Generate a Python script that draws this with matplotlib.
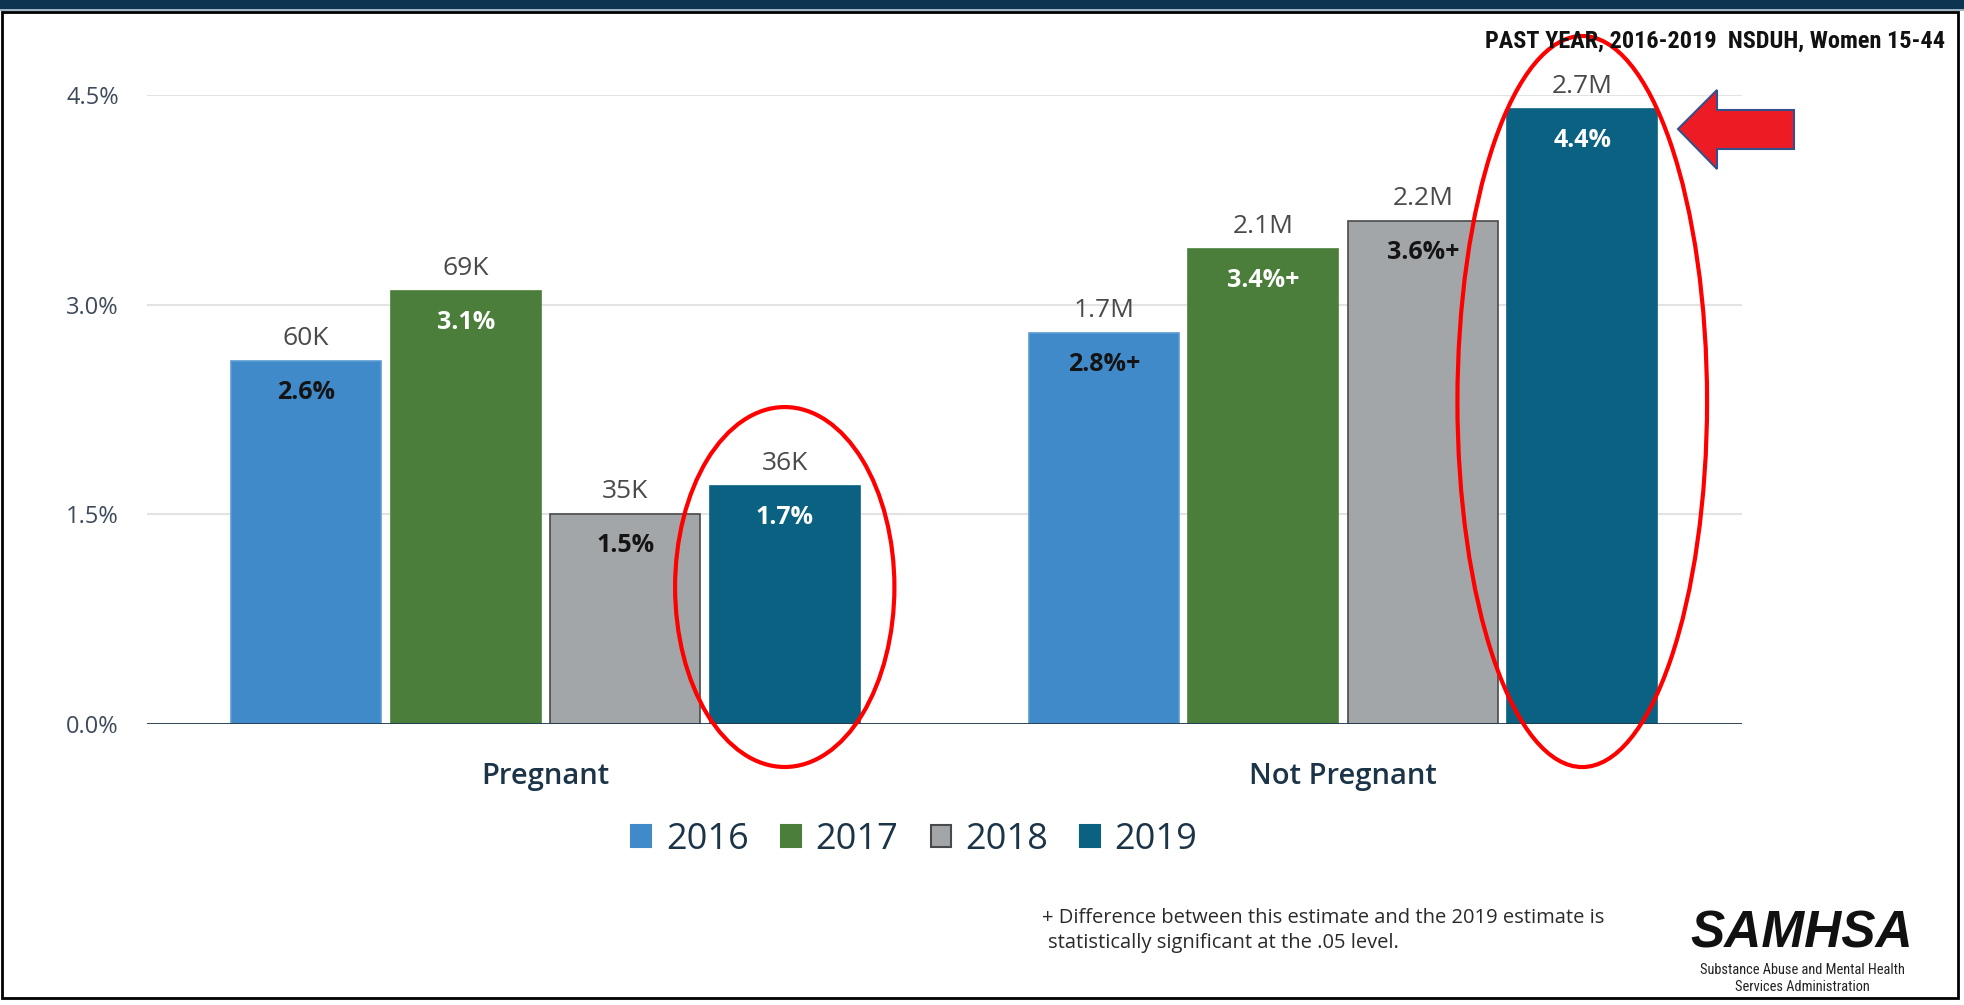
import matplotlib
matplotlib.use('Agg')
import matplotlib.pyplot as plt
from matplotlib import font_manager
from matplotlib.patches import Ellipse, Polygon, Rectangle, Patch
import numpy as np

# ---------------- data ----------------
groups = ['Pregnant', 'Not Pregnant']
years = ['2016', '2017', '2018', '2019']
pct_2016 = [2.6, 2.8]
pct_2017 = [3.1, 3.4]
pct_2018 = [1.5, 3.6]
pct_2019 = [1.7, 4.4]
num_2016 = ['60K', '1.7M']
num_2017 = ['69K', '2.1M']
num_2018 = ['35K', '2.2M']
num_2019 = ['36K', '2.7M']
sig_2016 = [False, True]
sig_2017 = [False, True]
sig_2018 = [False, True]
sig_2019 = [False, False]
yticks = [0.0, 1.5, 3.0, 4.5]

series_pct = [pct_2016, pct_2017, pct_2018, pct_2019]
series_num = [num_2016, num_2017, num_2018, num_2019]
series_sig = [sig_2016, sig_2017, sig_2018, sig_2019]
colors = ['#418AC9', '#4A7E3A', '#A3A6A9', '#0A6182']
edgecolors = ['#5a9bd2', '#4A7E3A', '#4a4a4a', '#0A6182']
inside_colors = ['#141414', '#ffffff', '#141414', '#ffffff']

FONT = 'Open Sans'
available = {f.name for f in font_manager.fontManager.ttflist}
NARROW = [n for n in ['Liberation Sans Narrow', 'Roboto Condensed',
                      'DejaVu Sans Condensed', 'Liberation Sans']
          if n in available] + ['DejaVu Sans']

W, H = 1965, 1005
fig = plt.figure(figsize=(W / 100, H / 100), dpi=100)


def fx(px):
    return px / W


def fy(py):
    return 1 - py / H


ax = fig.add_axes([146.75 / W, 1 - 724 / H, 1595 / W, 629 / H])

x = np.arange(len(groups))
offsets = [-0.3, -0.1, 0.1, 0.3]
width = 0.188

for i, yr in enumerate(years):
    xi = x + offsets[i]
    ax.bar(xi, series_pct[i], width=width, color=colors[i],
           edgecolor=edgecolors[i], linewidth=1.2, zorder=2, label=yr)
    for j in range(len(groups)):
        v = series_pct[i][j]
        ax.annotate(series_num[i][j], (xi[j], v), xytext=(0, 11.5),
                    textcoords='offset points', ha='center', va='baseline',
                    fontsize=19, color='#4a4a4a', family=FONT, zorder=4)
        lab = f'{v:.1f}%' + ('+' if series_sig[i][j] else '')
        ax.annotate(lab, (xi[j], v), xytext=(0, -27.4),
                    textcoords='offset points', ha='center', va='baseline',
                    fontsize=18, fontweight='bold', color=inside_colors[i],
                    family=FONT, zorder=4)

ax.set_xlim(-0.5, 1.5)
ax.set_ylim(0, 4.5)
ax.set_yticks(yticks)
ax.set_yticklabels([f'{v:.1f}%' for v in yticks], fontsize=17,
                   color='#3e4b5b', family=FONT)
ax.yaxis.grid(True, color='#e3e3e3', linewidth=1.5)
ax.set_axisbelow(True)
ax.tick_params(axis='y', length=0, pad=20)
ax.set_xticks(x)
ax.set_xticklabels(groups, fontsize=21, fontweight='semibold',
                   color='#1b3447', family=FONT, va='baseline')
ax.tick_params(axis='x', length=0, pad=43)
for s in ax.spines.values():
    s.set_visible(False)
ax.axhline(0, color='#1f3a4f', linewidth=2, zorder=3)

# red ellipses around the 2019 bars
ax.add_patch(Ellipse((x[0] + offsets[3], 0.98), 0.275, 2.575, fill=False,
                     edgecolor='#ff0000', linewidth=3, clip_on=False, zorder=6))
ax.add_patch(Ellipse((x[1] + offsets[3], 2.307), 0.313, 5.23, fill=False,
                     edgecolor='#ff0000', linewidth=3, clip_on=False, zorder=6))

# legend
handles = [Patch(facecolor=colors[i],
                 edgecolor=('#4a4a4a' if i == 2 else colors[i]),
                 linewidth=1.5) for i in range(4)]
fig.legend(handles, years, loc='center', bbox_to_anchor=(914.5 / W, fy(840)),
           ncol=4, frameon=False, prop={'family': FONT, 'size': 26},
           handlelength=0.55, handleheight=0.58, handletextpad=0.4,
           columnspacing=0.9, labelcolor='#1b3447', borderpad=0)

# red arrow
arrow_px = [(1678, 129), (1717, 90), (1717, 110), (1794, 110), (1794, 149),
            (1717, 149), (1717, 169)]
fig.add_artist(Polygon([(fx(a), fy(b)) for a, b in arrow_px], closed=True,
                       transform=fig.transFigure, facecolor='#ed1c24',
                       edgecolor='#34508c', linewidth=1.5))

# frame and top band
fig.add_artist(Rectangle((0, fy(9)), 1, 9 / H, transform=fig.transFigure,
                         facecolor='#0c3551', edgecolor='none'))
fig.add_artist(Rectangle((0, fy(11.5)), 1, 2.5 / H, transform=fig.transFigure,
                         facecolor='#9fb3c2', edgecolor='none'))
fig.add_artist(Rectangle((fx(2), fy(998)), fx(1958) - fx(2), fy(11.5) - fy(998),
                         transform=fig.transFigure, fill=False,
                         edgecolor='black', linewidth=2))

# title (fit to the reference width)
title = fig.text(fx(1945), fy(48), 'PAST YEAR, 2016-2019  NSDUH, Women 15-44',
                 ha='right', va='baseline', fontsize=19, fontweight='bold',
                 family=NARROW, color='#111111')

# footnote
fig.text(fx(1042), fy(923),
         '+ Difference between this estimate and the 2019 estimate is',
         ha='left', va='baseline', fontsize=14.5, family=FONT, color='#2a2a2a')
fig.text(fx(1048), fy(948), 'statistically significant at the .05 level.',
         ha='left', va='baseline', fontsize=14.5, family=FONT, color='#2a2a2a')

# logo
fig.text(fx(1802), fy(947), 'SAMHSA', ha='center', va='baseline',
         fontsize=37, fontweight='bold', fontstyle='italic',
         family=['Liberation Sans', 'DejaVu Sans'], color='#111111')
sub1 = fig.text(fx(1802), fy(974), 'Substance Abuse and Mental Health',
                ha='center', va='baseline', fontsize=10.5, family=NARROW,
                color='#222222')
sub2 = fig.text(fx(1802), fy(991), 'Services Administration',
                ha='center', va='baseline', fontsize=10.5, family=NARROW,
                color='#222222')

fig.canvas.draw()
r = fig.canvas.get_renderer()
tw = title.get_window_extent(r).width
if tw > 460:
    title.set_fontsize(19 * 460 / tw)
sw = sub1.get_window_extent(r).width
if sw > 207:
    sub1.set_fontsize(10.5 * 207 / sw)
    sub2.set_fontsize(10.5 * 207 / sw)

fig.savefig('out.png', dpi=100, facecolor='white')
